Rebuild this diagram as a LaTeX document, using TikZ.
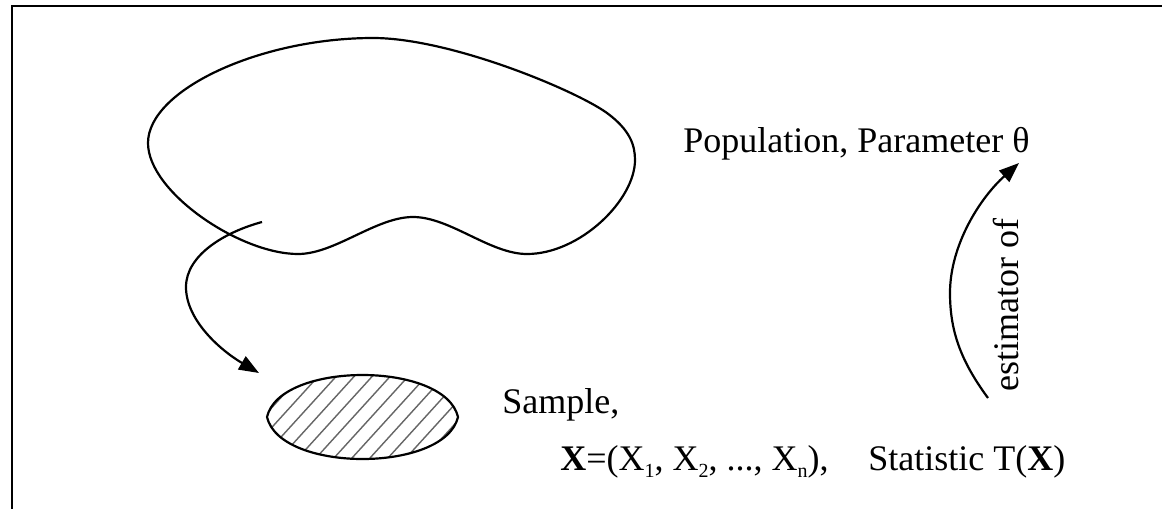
\documentclass[tikz,border=0pt]{standalone}
\usepackage{fontspec}
\setmainfont{Liberation Serif}
\usetikzlibrary{arrows.meta}
\newcommand\mysub[1]{\raisebox{-0.22em}{\fontsize{10}{10}\selectfont #1}}
\begin{document}
\begin{tikzpicture}[x=0.5pt,y=-0.5pt,
  lbl/.style={anchor=base west, inner sep=0pt, font=\fontsize{18}{21}\selectfont},
  curve/.style={line width=1.1pt, line join=round},
  arr/.style={curve, -{Triangle[length=10pt,width=7.5pt]}},
  frame/.style={line width=1.3pt},
  hatch/.style={black!60, line width=0.7pt}]
\useasboundingbox (0,0) rectangle (1162,509);
% frame
\draw[frame] (1162,6) -- (12,6) -- (12,509);
% population blob
\draw[curve] (373,38) .. controls (450,38) and (575,90) .. (607,113)
  .. controls (630,130) and (635,145) .. (635,160)
  .. controls (635,200) and (580,254) .. (527,254)
  .. controls (490,254) and (450,217) .. (413,217)
  .. controls (376,217) and (335,254) .. (298,254)
  .. controls (240,254) and (148,192) .. (148,143)
  .. controls (148,90) and (260,38) .. cycle;
% sample lens with hatching
\begin{scope}
  \clip (267,417) .. controls (280,361) and (445,361) .. (458,417)
        .. controls (445,473) and (280,473) .. cycle;
  \foreach \i in {0,...,17}
    \draw[hatch] ({170+\i*18},480) -- ++(130,-143);
\end{scope}
\draw[curve] (267,417) .. controls (280,361) and (445,361) .. (458,417)
        .. controls (445,473) and (280,473) .. cycle;
% labels
\node[lbl] (pop) at (683,152) {Population, Parameter θ};
\node[lbl] (sample) at (502,413) {Sample,};
\node[lbl] (xvec) at (560,470) {\textbf{X}=(X\mysub{1}, X\mysub{2}, ..., X\mysub{n}),};
\node[lbl] (stat) at (868,470) {Statistic T(\textbf{X})};
\node[font=\fontsize{18}{21}\selectfont, rotate=90, anchor=base, inner sep=0pt] (est) at (1018,305) {estimator of};
% connectors
\coordinate (sstart) at (262,222);
\coordinate (send) at (259,373);
\draw[arr] (sstart) .. controls (225,232) and (186,255) .. (186,287)
           .. controls (186,320) and (220,350) .. (send);
\coordinate (estart) at (988,398);
\coordinate (eend) at (1019,163);
\draw[arr] (estart) .. controls (960,360) and (950,330) .. (950,293)
           .. controls (950,245) and (980,198) .. (eend);
\end{tikzpicture}
\end{document}
